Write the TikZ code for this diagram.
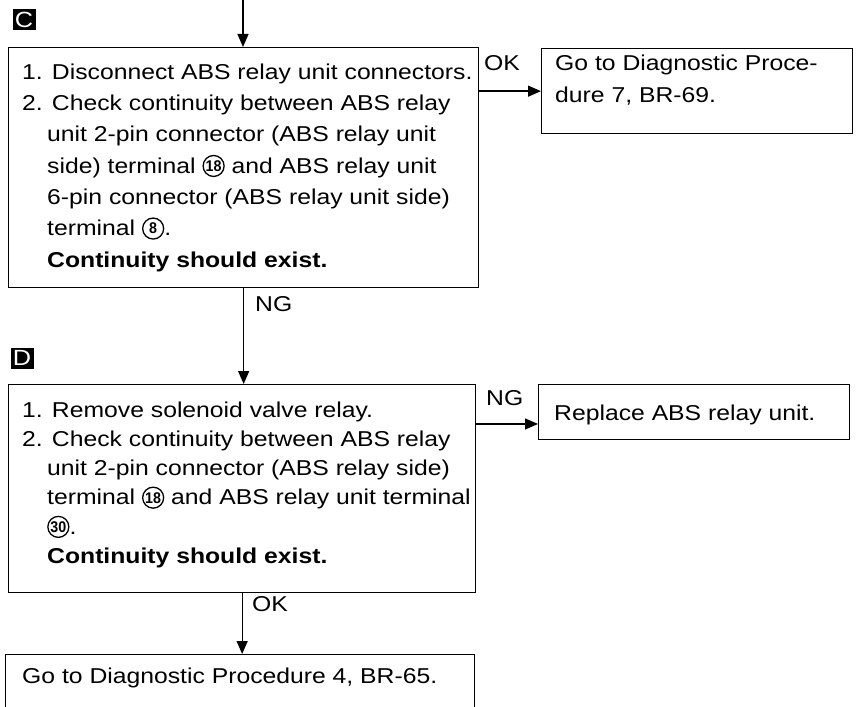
\documentclass[tikz,border=0pt]{standalone}
\usepackage{fontspec}
\setmainfont{Liberation Sans}[FakeStretch=1.15]
\newfontfamily\cnfont{Liberation Sans}[FakeStretch=0.92]
\usetikzlibrary{arrows.meta,calc}

\newcommand\cnum[1]{\tikz[baseline={([yshift=-1.8pt]cn.base)}]\node[circle,draw,line width=1.3pt,inner sep=0pt,minimum size=21pt,font=\cnfont\fontsize{15.5}{15.5}\selectfont\bfseries](cn){#1};}

\begin{document}
\begin{tikzpicture}[x=1pt,y=-1pt,
  box/.style={draw,line width=1.3pt,rectangle,inner sep=0pt,anchor=north west},
  txt/.style={anchor=north west,inner sep=0pt,align=left},
  flow/.style={line width=1.3pt,-{Triangle[length=13pt,width=11pt]}},
  lbl/.style={anchor=base west,inner sep=0pt,font=\fontsize{21.5}{25}\selectfont},
  tag/.style={fill=black,text=white,inner sep=0pt,minimum width=23pt,minimum height=21pt,font=\fontsize{22}{22}\selectfont}]
\clip (0,0) rectangle (858,706);

% boxes
\node[box,minimum width=470pt,minimum height=240pt] (C) at (8,47) {};
\node[box,minimum width=311pt,minimum height=85pt] (R1) at (541,48) {};
\node[box,minimum width=467pt,minimum height=208pt] (D) at (8,384) {};
\node[box,minimum width=311pt,minimum height=55pt] (R2) at (538,384) {};
\node[box,minimum width=469pt,minimum height=90pt] (B) at (5,654) {};

% tags
\node[tag] (tagC) at (24,20) {C};
\node[tag] (tagD) at (22,358) {D};

% texts
\node[txt,font=\fontsize{21.5}{31.3}\selectfont] (tC) at (22,63) {\rule{0pt}{16pt}1. Disconnect ABS relay unit connectors.\\
2. Check continuity between ABS relay\\
\hspace*{25pt}unit 2-pin connector (ABS relay unit\\
\hspace*{25pt}side) terminal \cnum{18} and ABS relay unit\\
\hspace*{25pt}6-pin connector (ABS relay unit side)\\
\hspace*{25pt}terminal \cnum{8}.\\
\hspace*{25pt}\textbf{Continuity should exist.}};

\node[txt,font=\fontsize{21.5}{32}\selectfont] (tR1) at (555,54) {\rule{0pt}{16pt}Go to Diagnostic Proce-\\dure 7, BR-69.};

\node[txt,font=\fontsize{21.5}{29.2}\selectfont] (tD) at (22,401) {\rule{0pt}{16pt}1. Remove solenoid valve relay.\\
2. Check continuity between ABS relay\\
\hspace*{25pt}unit 2-pin connector (ABS relay side)\\
\hspace*{25pt}terminal \cnum{18} and ABS relay unit terminal\\
\hspace*{25pt}\cnum{30}.\\
\hspace*{25pt}\textbf{Continuity should exist.}};

\node[lbl] (tR2) at (554,420) {Replace ABS relay unit.};
\node[lbl] (tB) at (22,683) {Go to Diagnostic Procedure 4, BR-65.};

% connectors
\coordinate (top) at (243,0);
\draw[flow] (top) -- (top |- C.north);
\draw[flow] (C.east |- R1.west) -- (R1.west);
\draw[flow] (C.south) -- (C.south |- D.north);
\coordinate (r2in) at ($(R2.south west)!0.29!(R2.north west)$);
\draw[flow] (D.east |- r2in) -- (r2in);
\draw[flow] (D.south) -- (D.south |- B.north);

% connector labels
\node[lbl] (okC) at (484,71) {OK};
\node[lbl] (ngC) at (255,311) {NG};
\node[lbl] (ngD) at (486,405) {NG};
\node[lbl] (okD) at (252,611) {OK};
\end{tikzpicture}
\end{document}
